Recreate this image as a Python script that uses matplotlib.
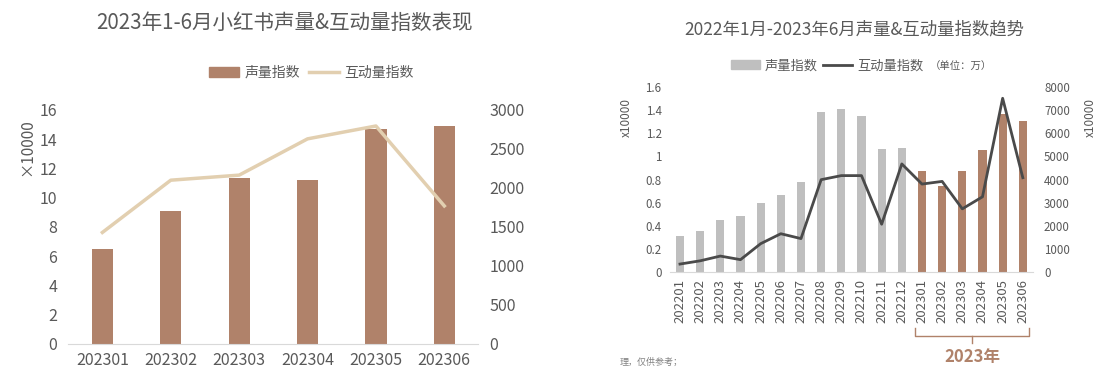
import matplotlib
matplotlib.use('Agg')
import matplotlib.pyplot as plt
import matplotlib.transforms as mtransforms
from matplotlib.patches import Patch
from matplotlib.lines import Line2D

plt.rcParams['font.family'] = ['Noto Sans CJK SC', 'DejaVu Sans']

# left panel data (2023 Jan-Jun)
months_2023 = ['202301', '202302', '202303', '202304', '202305', '202306']
volume_2023 = [6.48, 9.06, 11.32, 11.2, 14.7, 14.88]          # x10000
interact_2023 = [1430, 2100, 2165, 2630, 2795, 1770]

# right panel data (2022-01 .. 2023-06)
months_all = ['202201', '202202', '202203', '202204', '202205', '202206',
              '202207', '202208', '202209', '202210', '202211', '202212',
              '202301', '202302', '202303', '202304', '202305', '202306']
volume_all = [0.315, 0.353, 0.449, 0.483, 0.599, 0.663, 0.781, 1.383, 1.412,
              1.348, 1.065, 1.076, 0.874, 0.741, 0.877, 1.056, 1.366, 1.308]
interact_all = [350, 490, 695, 540, 1230, 1660, 1450, 3995, 4170, 4170,
                2070, 4675, 3805, 3920, 2735, 3255, 7510, 4080]

brown = '#B0826A'
beige = '#E2CFB0'
grey_bar = '#BFBFBF'
dark = '#4A4A4A'
txt = '#595959'
spine_c = '#D9D9D9'

fig = plt.figure(figsize=(11, 3.78), dpi=100)

# ---------------- left panel ----------------
ax1 = fig.add_axes([0.062, 0.090, 0.373, 0.619])
x1 = range(len(months_2023))
ax1.bar(x1, volume_2023, width=0.31, color=brown, zorder=2)
ax1.set_ylim(0, 16)
ax1.set_yticks(range(0, 17, 2))
ax1.set_xlim(-0.5, 5.5)
ax1.set_xticks(list(x1))
ax1.set_xticklabels(months_2023)
ax1r = ax1.twinx()
ax1r.plot(x1, interact_2023, color=beige, lw=2.5, zorder=3)
ax1r.set_ylim(0, 3000)
ax1r.set_yticks(range(0, 3001, 500))

for a in (ax1, ax1r):
    for s in a.spines.values():
        s.set_visible(False)
    a.tick_params(length=0, labelsize=11.5, labelcolor=txt)
ax1.spines['bottom'].set_visible(True)
ax1.spines['bottom'].set_color(spine_c)
ax1.tick_params(axis='y', pad=8)
ax1.tick_params(axis='x', pad=6)
ax1r.tick_params(axis='y', pad=8)

fig.text(0.259, 0.940, '2023年1-6月小红书声量&互动量指数表现', ha='center', va='center',
         fontsize=14.8, color=txt)
fig.text(0.024, 0.61, '×10000', rotation=90, ha='center', va='center',
         fontsize=11, color=txt)
h1 = [Patch(color=brown), Line2D([], [], color=beige, lw=2.5)]
fig.legend(h1, ['声量指数', '互动量指数'], loc='center', bbox_to_anchor=(0.283, 0.808),
           ncol=2, frameon=False, fontsize=10, labelcolor=txt,
           handlelength=2.2, handletextpad=0.4, columnspacing=0.6)

# ---------------- right panel ----------------
ax2 = fig.add_axes([0.609, 0.280, 0.330, 0.490])
x2 = range(len(months_all))
bar_colors = [grey_bar if m.startswith('2022') else brown for m in months_all]
ax2.bar(x2, volume_all, width=0.41, color=bar_colors, zorder=2)
ax2.set_ylim(0, 1.6)
ax2.set_yticks([0, 0.2, 0.4, 0.6, 0.8, 1.0, 1.2, 1.4, 1.6])
ax2.set_yticklabels(['0', '0.2', '0.4', '0.6', '0.8', '1', '1.2', '1.4', '1.6'])
ax2.set_xlim(-0.5, 17.5)
ax2.set_xticks(list(x2))
ax2.set_xticklabels(months_all, rotation=90)
ax2r = ax2.twinx()
ax2r.plot(x2, interact_all, color=dark, lw=2, zorder=3)
ax2r.set_ylim(0, 8000)
ax2r.set_yticks(range(0, 8001, 1000))

for a in (ax2, ax2r):
    for s in a.spines.values():
        s.set_visible(False)
    a.tick_params(length=0, labelsize=8.3, labelcolor=txt)
ax2.spines['bottom'].set_visible(True)
ax2.spines['bottom'].set_color(spine_c)
ax2.tick_params(axis='y', pad=6)
ax2.tick_params(axis='x', pad=5, labelsize=9.5)
ax2r.tick_params(axis='y', pad=8)

fig.text(0.777, 0.921, '2022年1月-2023年6月声量&互动量指数趋势', ha='center', va='center',
         fontsize=12.5, color=txt)
fig.text(0.569, 0.69, 'x10000', rotation=90, ha='center', va='center',
         fontsize=8.5, color=txt)
fig.text(0.991, 0.69, 'x10000', rotation=90, ha='center', va='center',
         fontsize=8.5, color=txt)
h2 = [Patch(color=grey_bar), Line2D([], [], color=dark, lw=2)]
fig.legend(h2, ['声量指数', '互动量指数'], loc='center', bbox_to_anchor=(0.752, 0.826),
           ncol=2, frameon=False, fontsize=9.5, labelcolor=txt,
           handlelength=2.2, handletextpad=0.4, columnspacing=0.4)
fig.text(0.845, 0.822, '（单位：万）', ha='left', va='center', fontsize=7.5, color=txt)

# bracket under the 2023 months
tr = mtransforms.blended_transform_factory(ax2.transData, fig.transFigure)
bx0, bx1 = 11.65, 17.3
by = 0.112
ax2.plot([bx0, bx0, bx1, bx1], [0.133, by, by, 0.133], color=brown, lw=1,
         transform=tr, clip_on=False)
ax2.plot([14.5, 14.5], [by, 0.093], color=brown, lw=1, transform=tr, clip_on=False)
ax2.text(14.5, 0.055, '2023年', transform=tr, ha='center', va='center',
         fontsize=12, color=brown, fontweight='bold')

fig.text(0.563, 0.042, '理，仅供参考；', ha='left', va='center', fontsize=6.5, color='#808080')

fig.savefig('out.png', dpi=100, facecolor='white')
